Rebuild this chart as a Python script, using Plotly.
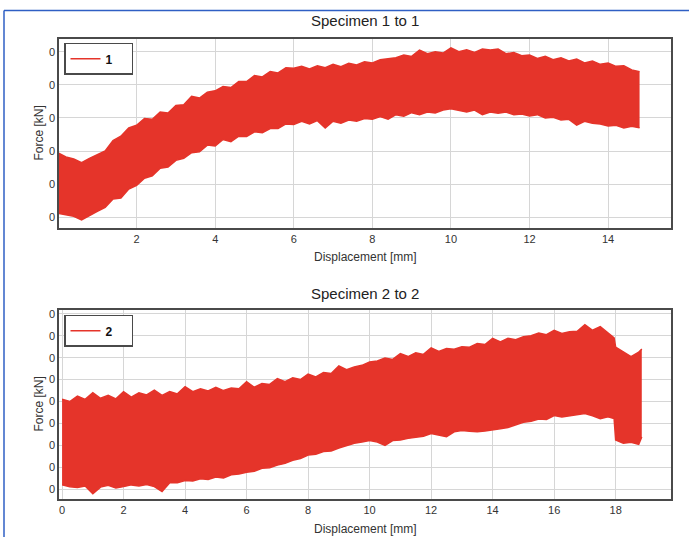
import plotly.graph_objects as go

# ---------------- data ----------------
# Specimen 1: displacement [mm] and upper / lower envelope of the force signal
disp1 = [0.0, 0.2, 0.4, 0.6, 0.8, 1.0, 1.2, 1.4, 1.6, 1.8, 2.0, 2.2, 2.4, 2.6, 2.8,
         3.0, 3.2, 3.4, 3.6, 3.8, 4.0, 4.2, 4.4, 4.6, 4.8, 5.0, 5.2, 5.4, 5.6, 5.8,
         6.0, 6.2, 6.4, 6.6, 6.8, 7.0, 7.2, 7.4, 7.6, 7.8, 8.0, 8.2, 8.4, 8.6, 8.8,
         9.0, 9.2, 9.4, 9.6, 9.8, 10.0, 10.2, 10.4, 10.6, 10.8, 11.0, 11.2, 11.4, 11.6, 11.8,
         12.0, 12.2, 12.4, 12.6, 12.8, 13.0, 13.2, 13.4, 13.6, 13.8, 14.0, 14.2, 14.4, 14.6, 14.8]
force1_upper = [0.195, 0.182, 0.176, 0.165, 0.178, 0.188, 0.200, 0.232, 0.245, 0.270, 0.278, 0.298, 0.296, 0.318, 0.315,
                0.338, 0.340, 0.365, 0.360, 0.378, 0.382, 0.395, 0.392, 0.410, 0.410, 0.428, 0.424, 0.440, 0.436, 0.452,
                0.450, 0.456, 0.448, 0.458, 0.452, 0.462, 0.455, 0.465, 0.460, 0.470, 0.466, 0.476, 0.478, 0.482, 0.490,
                0.486, 0.505, 0.494, 0.500, 0.496, 0.512, 0.500, 0.506, 0.498, 0.508, 0.505, 0.508, 0.494, 0.498, 0.488,
                0.490, 0.480, 0.486, 0.476, 0.482, 0.472, 0.478, 0.466, 0.472, 0.462, 0.466, 0.456, 0.458, 0.445, 0.440]
force1_lower = [0.012, 0.008, 0.003, -0.008, 0.006, 0.018, 0.030, 0.055, 0.058, 0.085, 0.096, 0.118, 0.125, 0.148, 0.152,
                0.172, 0.178, 0.195, 0.198, 0.218, 0.215, 0.235, 0.228, 0.245, 0.244, 0.258, 0.255, 0.268, 0.268, 0.282,
                0.280, 0.290, 0.282, 0.292, 0.270, 0.290, 0.284, 0.294, 0.290, 0.298, 0.296, 0.304, 0.296, 0.310, 0.305,
                0.316, 0.310, 0.318, 0.315, 0.324, 0.328, 0.322, 0.318, 0.324, 0.310, 0.318, 0.314, 0.318, 0.310, 0.312,
                0.306, 0.310, 0.300, 0.302, 0.294, 0.296, 0.278, 0.290, 0.284, 0.282, 0.276, 0.278, 0.270, 0.275, 0.270]

# Specimen 2
disp2 = [0.0, 0.25, 0.5, 0.75, 1.0, 1.25, 1.5, 1.75, 2.0, 2.25, 2.5, 2.75, 3.0, 3.25, 3.5, 3.75,
         4.0, 4.25, 4.5, 4.75, 5.0, 5.25, 5.5, 5.75, 6.0, 6.25, 6.5, 6.75, 7.0, 7.25, 7.5, 7.75,
         8.0, 8.25, 8.5, 8.75, 9.0, 9.25, 9.5, 9.75, 10.0, 10.25, 10.5, 10.75, 11.0, 11.25, 11.5, 11.75,
         12.0, 12.25, 12.5, 12.75, 13.0, 13.25, 13.5, 13.75, 14.0, 14.25, 14.5, 14.75, 15.0, 15.25, 15.5, 15.75,
         16.0, 16.25, 16.5, 16.75, 17.0, 17.25, 17.5, 17.75, 17.95, 18.0, 18.25, 18.5, 18.75, 18.85]
force2_upper = [0.410, 0.400, 0.425, 0.410, 0.440, 0.415, 0.428, 0.412, 0.445, 0.420, 0.440, 0.430, 0.452, 0.428, 0.445, 0.435,
                0.468, 0.445, 0.458, 0.448, 0.465, 0.450, 0.462, 0.458, 0.490, 0.465, 0.482, 0.478, 0.505, 0.490, 0.508, 0.500,
                0.525, 0.512, 0.532, 0.528, 0.562, 0.545, 0.558, 0.565, 0.580, 0.585, 0.598, 0.592, 0.618, 0.605, 0.622, 0.615,
                0.645, 0.628, 0.642, 0.638, 0.650, 0.648, 0.665, 0.660, 0.688, 0.672, 0.688, 0.682, 0.695, 0.700, 0.712, 0.705,
                0.725, 0.710, 0.718, 0.720, 0.750, 0.725, 0.742, 0.715, 0.690, 0.648, 0.628, 0.605, 0.625, 0.640]
force2_lower = [0.020, 0.012, 0.008, 0.015, -0.020, 0.010, 0.018, 0.006, 0.012, 0.020, 0.015, 0.022, 0.012, -0.010, 0.030, 0.030,
                0.040, 0.038, 0.048, 0.045, 0.056, 0.052, 0.066, 0.070, 0.078, 0.082, 0.096, 0.098, 0.110, 0.118, 0.132, 0.140,
                0.156, 0.160, 0.172, 0.175, 0.188, 0.198, 0.210, 0.215, 0.222, 0.215, 0.200, 0.222, 0.225, 0.232, 0.238, 0.242,
                0.254, 0.248, 0.240, 0.262, 0.268, 0.264, 0.262, 0.266, 0.270, 0.276, 0.282, 0.295, 0.305, 0.310, 0.320, 0.318,
                0.336, 0.330, 0.336, 0.340, 0.345, 0.335, 0.322, 0.330, 0.322, 0.225, 0.210, 0.214, 0.205, 0.238]

x1_ticks = [2, 4, 6, 8, 10, 12, 14]
x2_ticks = [0, 2, 4, 6, 8, 10, 12, 14, 16, 18]
y1_ticks = [0.0, 0.1, 0.2, 0.3, 0.4, 0.5]
y1_labels = ["0", "0", "0", "0", "0", "0"]
y2_ticks = [0.0, 0.1, 0.2, 0.3, 0.4, 0.5, 0.6, 0.7, 0.8]
y2_labels = ["0", "0", "0", "0", "0", "0", "0", "0", "0"]

titles = ["Specimen 1 to 1", "Specimen 2 to 2"]
names = ["1", "2"]

# ---------------- styling ----------------
W, H = 689, 537
RED = "#e5342a"
GRID = "#d6d6d6"
FRAME = "#4a4a4a"
TXT = "#333333"
FONT = "Liberation Sans, Arial, sans-serif"
PAD = "\u00a0" * 4

def px_x(p):
    return p / W

def px_y(p):
    return 1 - p / H

fig = go.Figure()

# specimen 1
fig.add_trace(go.Scatter(x=disp1, y=force1_lower, mode="lines", name=names[0] + PAD,
                         line=dict(color=RED, width=1.5), xaxis="x", yaxis="y",
                         legend="legend", showlegend=True))
fig.add_trace(go.Scatter(x=disp1, y=force1_upper, mode="lines", fill="tonexty",
                         fillcolor=RED, line=dict(color=RED, width=1.5),
                         xaxis="x", yaxis="y", showlegend=False))
# specimen 2
fig.add_trace(go.Scatter(x=disp2, y=force2_lower, mode="lines", name=names[1] + PAD,
                         line=dict(color=RED, width=1.5), xaxis="x2", yaxis="y2",
                         legend="legend2", showlegend=True))
fig.add_trace(go.Scatter(x=disp2, y=force2_upper, mode="lines", fill="tonexty",
                         fillcolor=RED, line=dict(color=RED, width=1.5),
                         xaxis="x2", yaxis="y2", showlegend=False))

axis_common = dict(showgrid=True, gridcolor=GRID, gridwidth=1, zeroline=False,
                   showline=True, linecolor=FRAME, linewidth=1.5, mirror=True,
                   ticks="", tickfont=dict(size=11, color=TXT, family=FONT))

xdom = [px_x(59), px_x(671)]
legend_common = dict(xanchor="left", yanchor="top", bgcolor="white", bordercolor=FRAME,
                     borderwidth=1.5, itemwidth=30, tracegroupgap=0,
                     font=dict(size=12, color="#111111", family=FONT, weight="bold"))
fig.update_layout(
    width=W, height=H,
    margin=dict(l=0, r=0, t=0, b=0),
    paper_bgcolor="white", plot_bgcolor="white",
    font=dict(family=FONT, color=TXT),
    xaxis=dict(domain=xdom, range=[0.025, 15.6], tickvals=x1_ticks, anchor="y", **axis_common),
    yaxis=dict(domain=[px_y(227), px_y(37)], range=[-0.033, 0.539], tickvals=y1_ticks,
               ticktext=y1_labels, anchor="x", **axis_common),
    xaxis2=dict(domain=xdom, range=[-0.1, 19.8], tickvals=x2_ticks, anchor="y2", **axis_common),
    yaxis2=dict(domain=[px_y(499), px_y(309)], range=[-0.045, 0.818], tickvals=y2_ticks,
                ticktext=y2_labels, anchor="x2", **axis_common),
    legend=dict(x=px_x(64), y=px_y(41), **legend_common),
    legend2=dict(x=px_x(64), y=px_y(314), **legend_common),
    showlegend=True,
)

ann = []
for t, yy in zip(titles, (19, 293)):
    ann.append(dict(text=t, x=px_x(365), y=px_y(yy), xref="paper", yref="paper",
                    xanchor="center", yanchor="middle", showarrow=False,
                    font=dict(size=15, color="#222222", family=FONT)))
for yy in (256, 529):
    ann.append(dict(text="Displacement [mm]", x=px_x(365), y=px_y(yy), xref="paper", yref="paper",
                    xanchor="center", yanchor="middle", showarrow=False,
                    font=dict(size=12, color=TXT, family=FONT)))
for yy in (132, 404):
    ann.append(dict(text="Force [kN]", x=px_x(39), y=px_y(yy), xref="paper", yref="paper",
                    xanchor="center", yanchor="middle", showarrow=False, textangle=-90,
                    font=dict(size=12, color=TXT, family=FONT)))
fig.update_layout(annotations=ann)

# blue frame edges of the original figure
fig.add_shape(type="line", xref="paper", yref="paper", x0=px_x(4), x1=1, y0=px_y(8.5), y1=px_y(8.5),
              line=dict(color="#2f5fc4", width=1.5))
fig.add_shape(type="line", xref="paper", yref="paper", x0=px_x(4), x1=px_x(4), y0=0, y1=px_y(8.5),
              line=dict(color="#2f5fc4", width=1.5))

fig.write_html("out.html", config={"displayModeBar": False},
               post_script="document.body.style.margin='0';")
